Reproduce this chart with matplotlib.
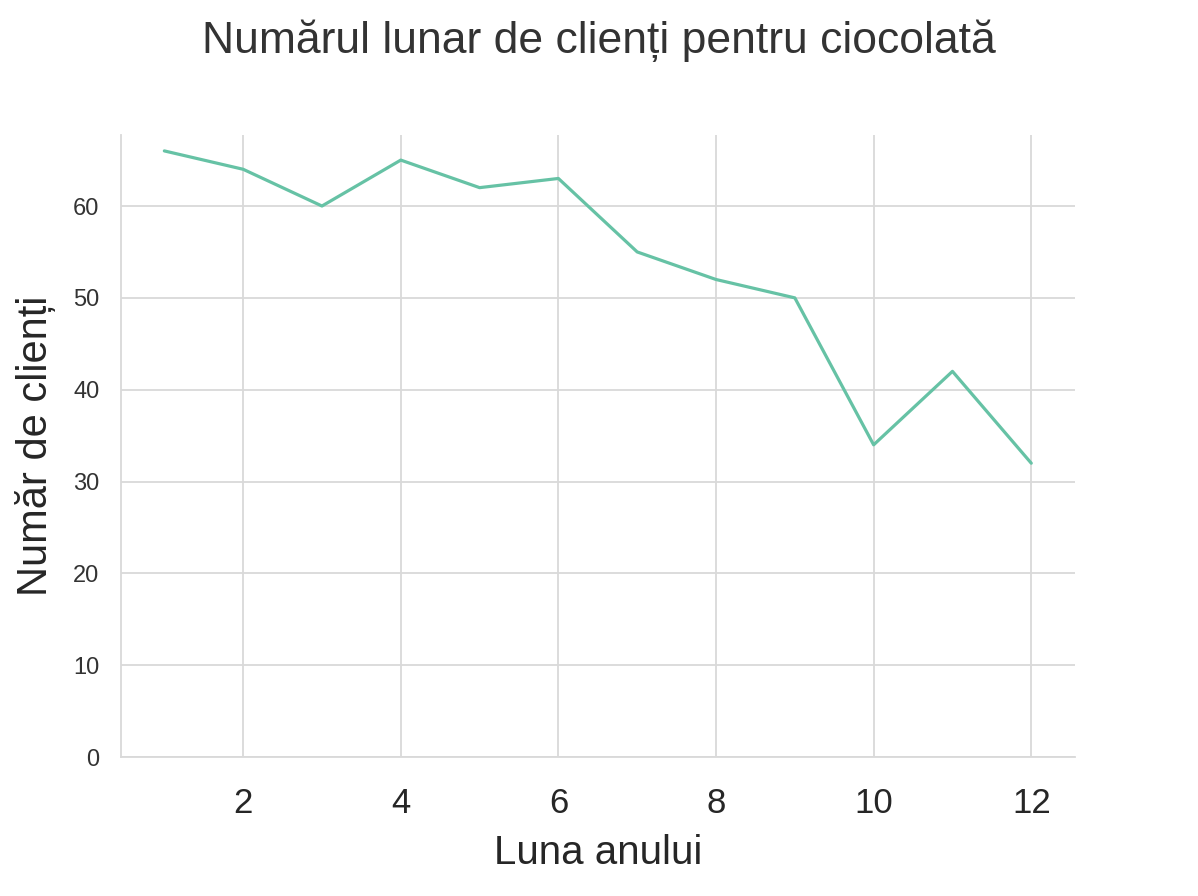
import numpy as np
import matplotlib
matplotlib.use("Agg")
import matplotlib.pyplot as plt
import seaborn as sns

# date
luni = [1, 2, 3, 4, 5, 6, 7, 8, 9, 10, 11, 12]
clienti = [66, 64, 60, 65, 62, 63, 55, 52, 50, 34, 42, 32]
xticks = [2, 4, 6, 8, 10, 12]
yticks = [0, 10, 20, 30, 40, 50, 60]

sns.set_style("whitegrid")
plt.rcParams['font.family'] = ['Liberation Sans', 'DejaVu Sans']

fig = plt.figure(figsize=(11.98, 8.96), dpi=100)
ax = fig.add_axes([0.101, 0.155, 0.796, 0.694])

ax.plot(luni, clienti, color="#66c2a5", linewidth=2.3)

ax.set_ylim(bottom=0)
ax.set_xticks(xticks)
ax.set_yticks(yticks)
ax.tick_params(axis='x', labelsize=25, pad=18, colors='#262626')
ax.tick_params(axis='y', labelsize=17, pad=12, colors='#333333')
ax.grid(True, color='#d9d9d9', linewidth=1.3)

sns.despine(ax=ax)
for s in ['left', 'bottom']:
    ax.spines[s].set_color('#d9d9d9')
    ax.spines[s].set_linewidth(1.3)

ax.set_xlabel("Luna anului", fontsize=29, color='#262626', labelpad=10)
ax.set_ylabel("Număr de clienți", fontsize=30, color='#262626', labelpad=12)
fig.text(0.5, 0.955, "Numărul lunar de clienți pentru ciocolată", fontsize=32,
         ha='center', va='center', color='#333333')

fig.savefig("out.png", dpi=100, facecolor='white')
